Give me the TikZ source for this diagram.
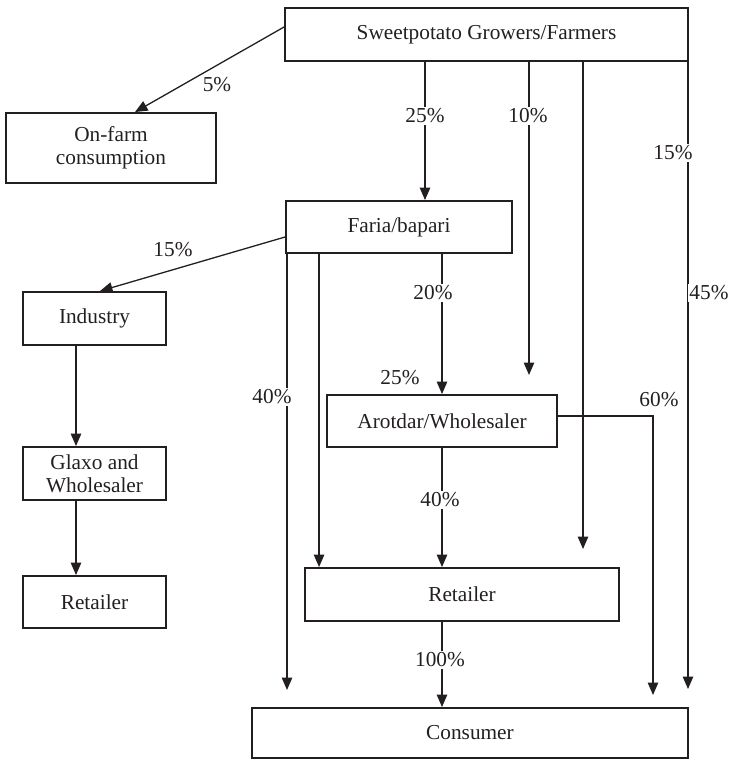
\documentclass[tikz,border=0pt]{standalone}
\usepackage{fontspec}
\setmainfont{Liberation Serif}
\usetikzlibrary{arrows.meta}
\definecolor{ink}{HTML}{231F20}

\begin{document}
\begin{tikzpicture}[x=1pt, y=-1pt, font=\fontsize{21.3}{23}\selectfont,
    box/.style={draw=ink, line width=1.9pt, text=ink, align=center, inner sep=0pt},
    flow/.style={draw=ink, line width=1.3pt, -{Triangle[length=12.5pt, width=10.5pt]}},
    pct/.style={text=ink, fill=white, inner sep=1.5pt},
    pctside/.style={text=ink, inner sep=0pt}]
\useasboundingbox (0,0) rectangle (729,760);

% boxes
\node[box, minimum width=403pt, minimum height=53pt] (grow) at (486.5,34.5) {Sweetpotato Growers/Farmers};
\node[box, minimum width=210pt, minimum height=70pt] (farm) at (111,148) {On-farm\\consumption};
\node[box, minimum width=226pt, minimum height=52pt] (faria) at (399,227) {Faria/bapari};
\node[box, minimum width=143pt, minimum height=53pt] (ind) at (94.5,318.5) {Industry};
\node[box, minimum width=143pt, minimum height=53pt] (glaxo) at (94.5,473.5) {Glaxo and\\Wholesaler};
\node[box, minimum width=143pt, minimum height=52pt] (lret) at (94.5,602) {Retailer};
\node[box, minimum width=230pt, minimum height=52pt] (arot) at (442,421) {Arotdar/Wholesaler};
\node[box, minimum width=314pt, minimum height=53pt] (ret) at (462,594.5) {Retailer};
\node[box, minimum width=436pt, minimum height=50pt] (cons) at (470,733) {Consumer};

% loose ends of the long arrows
\coordinate (e10) at (529,375);
\coordinate (e0) at (583,549);
\coordinate (e45) at (688,689);
\coordinate (e40) at (287,690);
\coordinate (e60) at (653,695);
\coordinate (c25) at ([xshift=26pt]faria.north);
\coordinate (cfr) at ([xshift=34pt]faria.south west);
\coordinate (cind) at ([xshift=-18.5pt]ind.south);

% from the growers
\draw[flow] ([yshift=7.5pt]grow.west) -- ([xshift=24pt]farm.north);
\draw[flow] (grow.south -| c25) -- (c25);
\draw[flow] (grow.south -| e10) -- (e10);
\draw[flow] (grow.south -| e0) -- (e0);
\draw[flow] (grow.south -| e45) -- (e45);

% from faria/bapari
\draw[flow] ([yshift=-10pt]faria.west) -- ([xshift=5.5pt]ind.north);
\draw[flow] (faria.south -| e40) -- (e40);
\draw[flow] (cfr) -- (cfr |- ret.north);
\draw[flow] (faria.south -| arot.north) -- (arot.north);

% industry chain
\draw[flow] (cind) -- (cind |- glaxo.north);
\draw[flow] (glaxo.south -| cind) -- (cind |- lret.north);

% wholesaler and retailer
\draw[flow] (arot.south) -- (arot.south |- ret.north);
\draw[flow] ([yshift=5pt]arot.east) -| (e60);
\draw[flow] (ret.south -| arot.south) -- (cons.north -| arot.south);

% shares
\node[pctside] (p5) at (217,85) {5\%};
\node[pct] (p25a) at (425,116) {25\%};
\node[pct] (p10) at (528,116) {10\%};
\node[pct] (p15a) at (673,153) {15\%};
\node[pct] (p45) at (709,293) {45\%};
\node[pctside] (p15b) at (173,250) {15\%};
\node[pct] (p20) at (433,293) {20\%};
\node[pctside] (p25b) at (400,378) {25\%};
\node[pct] (p40a) at (272,397) {40\%};
\node[pctside] (p60) at (659,400) {60\%};
\node[pct] (p40b) at (440,500) {40\%};
\node[pct] (p100) at (440,660) {100\%};
\end{tikzpicture}
\end{document}
